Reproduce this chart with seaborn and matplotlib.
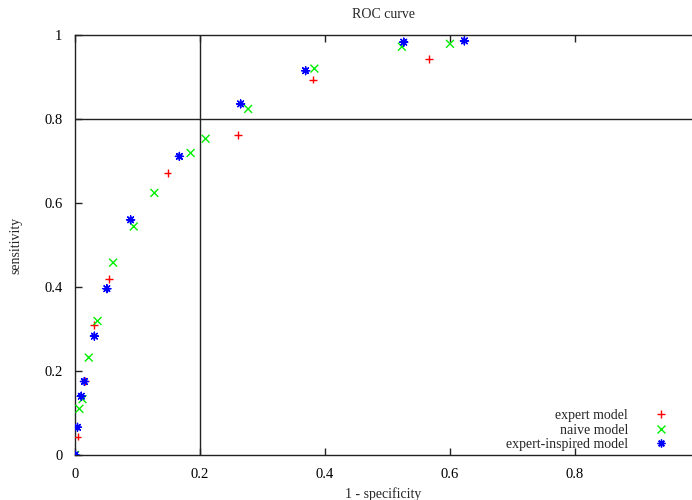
import matplotlib
matplotlib.use("Agg")
import matplotlib.pyplot as plt
import seaborn as sns
import pandas as pd

sns.set_theme(style="white")
plt.rcParams['font.family'] = ['Liberation Serif', 'DejaVu Serif']

# Data
expert_x = [0.0, 0.004, 0.016, 0.031, 0.055, 0.148, 0.261, 0.381, 0.566]
expert_y = [0.0, 0.044, 0.176, 0.310, 0.420, 0.672, 0.762, 0.894, 0.943]

naive_x = [0.0, 0.007, 0.012, 0.022, 0.036, 0.061, 0.094, 0.127, 0.185, 0.209, 0.277, 0.383, 0.523, 0.600]
naive_y = [0.0, 0.110, 0.133, 0.232, 0.319, 0.458, 0.544, 0.624, 0.719, 0.753, 0.824, 0.920, 0.972, 0.979]

inspired_x = [0.0, 0.004, 0.010, 0.015, 0.031, 0.051, 0.089, 0.167, 0.265, 0.369, 0.526, 0.623]
inspired_y = [0.0, 0.066, 0.140, 0.175, 0.283, 0.396, 0.560, 0.711, 0.836, 0.915, 0.983, 0.986]

labels = ["expert model", "naive model", "expert-inspired model"]
colors = ["#ff0000", "#00ee00", "#0000ff"]
markers = ["+", "x", (8, 2, 0)]

xticks = [0, 0.2, 0.4, 0.6, 0.8]
yticks = [0, 0.2, 0.4, 0.6, 0.8, 1]
xtick_labels = ["0", "0.2", "0.4", "0.6", "0.8"]
ytick_labels = ["0", "0.2", "0.4", "0.6", "0.8", "1"]

frames = []
for lab, xs, ys in zip(labels, [expert_x, naive_x, inspired_x], [expert_y, naive_y, inspired_y]):
    frames.append(pd.DataFrame({"fpr": xs, "tpr": ys, "model": lab}))
df = pd.concat(frames, ignore_index=True)

fig = plt.figure(figsize=(6.92, 5.0), dpi=100)
ax = fig.add_axes([75 / 692, 45 / 500, 617 / 692, 420 / 500])

ax.axvline(0.2, color="#222222", lw=1.0, zorder=1)
ax.axhline(0.8, color="#222222", lw=1.0, zorder=1)

sns.scatterplot(data=df, x="fpr", y="tpr", hue="model", style="model",
                hue_order=labels, style_order=labels,
                palette=dict(zip(labels, colors)),
                markers=dict(zip(labels, markers)),
                s=32, linewidth=1.0, ax=ax, zorder=3)

ax.set_xlim(0, 617 / 625)
ax.set_ylim(0, 1)
ax.set_xticks(xticks)
ax.set_xticklabels(xtick_labels)
ax.set_yticks(yticks)
ax.set_yticklabels(ytick_labels)
ax.tick_params(axis="both", direction="in", length=5, width=1, labelsize=10.5,
               colors="#222222", labelcolor="black")
ax.tick_params(axis="x", top=True, bottom=True, pad=9)
ax.tick_params(axis="y", left=True, right=False, pad=9)
for side in ["left", "bottom", "top"]:
    ax.spines[side].set_color("#222222")
    ax.spines[side].set_linewidth(1.0)
ax.spines["right"].set_visible(False)

ax.set_title("ROC curve", fontsize=10, pad=12)
ax.set_xlabel("1 - specificity", fontsize=10, labelpad=5)
ax.set_ylabel("sensitivity", fontsize=10, labelpad=16)

handles, _ = ax.get_legend_handles_labels()
ax.legend(handles=handles, labels=labels, loc="lower right", frameon=False,
          markerfirst=False, fontsize=10, handletextpad=1.6, handlelength=1.5,
          labelspacing=0.1, borderaxespad=0.0, bbox_to_anchor=(0.975, -0.004))

fig.savefig("out.png", dpi=100)
